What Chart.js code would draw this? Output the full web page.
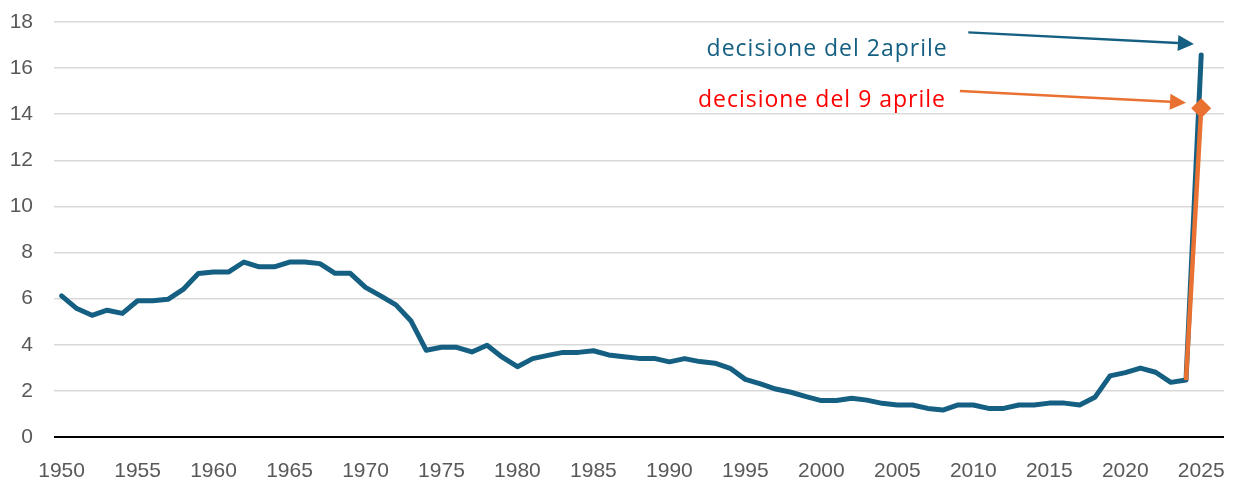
<!DOCTYPE html>
<html>
<head>
<meta charset="utf-8">
<script src="https://cdn.jsdelivr.net/npm/chart.js@4.4.1/dist/chart.umd.min.js"></script>
<style>
  html, body { margin: 0; padding: 0; background: #fff; }
  canvas { display: block; }
</style>
</head>
<body>
<canvas id="grafico" width="1235" height="479"></canvas>
<script>
// ── Dati ───────────────────────────────────────────────────────────
const ANNI = [
  1950, 1951, 1952, 1953, 1954, 1955, 1956, 1957, 1958, 1959,
  1960, 1961, 1962, 1963, 1964, 1965, 1966, 1967, 1968, 1969,
  1970, 1971, 1972, 1973, 1974, 1975, 1976, 1977, 1978, 1979,
  1980, 1981, 1982, 1983, 1984, 1985, 1986, 1987, 1988, 1989,
  1990, 1991, 1992, 1993, 1994, 1995, 1996, 1997, 1998, 1999,
  2000, 2001, 2002, 2003, 2004, 2005, 2006, 2007, 2008, 2009,
  2010, 2011, 2012, 2013, 2014, 2015, 2016, 2017, 2018, 2019,
  2020, 2021, 2022, 2023, 2024, 2025
];
const DAZI = [
  6.12, 5.57, 5.28, 5.50, 5.36, 5.91, 5.91, 5.97, 6.40, 7.09,
  7.16, 7.16, 7.59, 7.38, 7.38, 7.59, 7.59, 7.52, 7.10, 7.10,
  6.49, 6.12, 5.73, 5.03, 3.76, 3.89, 3.89, 3.69, 3.98, 3.46,
  3.05, 3.40, 3.54, 3.67, 3.67, 3.74, 3.56, 3.48, 3.41, 3.41,
  3.26, 3.40, 3.27, 3.20, 2.98, 2.50, 2.30, 2.08, 1.94, 1.75,
  1.58, 1.58, 1.68, 1.60, 1.46, 1.39, 1.39, 1.24, 1.17, 1.39,
  1.39, 1.24, 1.24, 1.39, 1.39, 1.47, 1.47, 1.39, 1.72, 2.65,
  2.79, 2.99, 2.81, 2.37, 2.47, 16.57
];
const ANNI_9APR = [2024, 2025];
const DAZI_9APR = [2.47, 14.26];

const X_TICKS = [1950, 1955, 1960, 1965, 1970, 1975, 1980, 1985, 1990, 1995,
                 2000, 2005, 2010, 2015, 2020, 2025];
const Y_TICKS = [0, 2, 4, 6, 8, 10, 12, 14, 16, 18];

const BLU = '#156082';
const ARANCIO = '#E97132';

// annotazioni (in coordinate dei dati)
const NOTE = [
  { text: 'decisione del 2aprile',  x: 1992.45, y: 16.54, color: BLU },
  { text: 'decisione del 9 aprile', x: 1991.88, y: 14.33, color: '#FF0000' }
];
const FRECCE = [
  { from: [2009.67, 17.55], to: [2024.52, 17.05], color: BLU },
  { from: [2009.12, 15.01], to: [2024.00, 14.50], color: ARANCIO }
];

// ── Plugin annotazioni ─────────────────────────────────────────────
function drawArrow(ctx, x1, y1, x2, y2, color) {
  const ang = Math.atan2(y2 - y1, x2 - x1);
  const len = 16, half = 8;
  const bx = x2 - Math.cos(ang) * len, by = y2 - Math.sin(ang) * len;
  ctx.strokeStyle = color;
  ctx.fillStyle = color;
  ctx.lineWidth = 2.5;
  ctx.beginPath();
  ctx.moveTo(x1, y1);
  ctx.lineTo(bx, by);
  ctx.stroke();
  ctx.beginPath();
  ctx.moveTo(x2, y2);
  ctx.lineTo(bx + Math.sin(ang) * half, by - Math.cos(ang) * half);
  ctx.lineTo(bx - Math.sin(ang) * half, by + Math.cos(ang) * half);
  ctx.closePath();
  ctx.fill();
}

const annotazioni = {
  id: 'annotazioni',
  afterDraw(chart) {
    const { ctx, scales: { x, y } } = chart;
    ctx.save();
    ctx.font = "23px 'Open Sans', sans-serif";
    ctx.textBaseline = 'alphabetic';
    ctx.textAlign = 'left';
    ctx.letterSpacing = '1px';
    NOTE.forEach(n => {
      ctx.fillStyle = n.color;
      ctx.fillText(n.text, x.getPixelForValue(n.x), y.getPixelForValue(n.y));
    });
    ctx.letterSpacing = '0px';
    FRECCE.forEach(a => {
      drawArrow(ctx,
        x.getPixelForValue(a.from[0]), y.getPixelForValue(a.from[1]),
        x.getPixelForValue(a.to[0]),   y.getPixelForValue(a.to[1]), a.color);
    });
    ctx.restore();
  }
};

// ── Grafico ────────────────────────────────────────────────────────
const TICK_FONT = { family: "'Liberation Sans', Arial, sans-serif", size: 21 };

new Chart(document.getElementById('grafico'), {
  type: 'line',
  data: {
    datasets: [
      {
        label: 'decisione del 9 aprile',
        data: ANNI_9APR.map((a, i) => ({ x: a, y: DAZI_9APR[i] })),
        borderColor: ARANCIO,
        backgroundColor: ARANCIO,
        borderWidth: 4.5,
        pointStyle: 'rectRot',
        pointRadius: [0, 10],
        pointBorderWidth: 0,
        order: 0
      },
      {
        label: 'dazi medi',
        data: ANNI.map((a, i) => ({ x: a, y: DAZI[i] })),
        borderColor: BLU,
        borderWidth: 5,
        borderJoinStyle: 'round',
        borderCapStyle: 'round',
        pointRadius: 0,
        order: 1
      }
    ]
  },
  options: {
    responsive: false,
    animation: false,
    layout: { padding: { top: 22, right: 11, bottom: 0, left: 0 } },
    plugins: { legend: { display: false }, tooltip: { enabled: false } },
    scales: {
      x: {
        type: 'linear',
        min: 1949.5,
        max: 2026.5,
        afterBuildTicks: s => { s.ticks = X_TICKS.map(v => ({ value: v })); },
        afterFit: s => { s.height = 42; s.paddingLeft = 0; s.paddingRight = 0; },
        grid: { display: false, drawTicks: false },
        border: { display: false },
        ticks: { color: '#595959', font: TICK_FONT, padding: 22, maxRotation: 0,
                 autoSkip: false, callback: v => String(v) }
      },
      y: {
        min: 0,
        max: 18,
        afterBuildTicks: s => { s.ticks = Y_TICKS.map(v => ({ value: v })); },
        afterFit: s => { s.width = 54; s.paddingTop = 0; s.paddingBottom = 0; },
        grid: {
          drawTicks: false,
          color: c => c.tick && c.tick.value === 0 ? '#000000' : '#D9D9D9',
          lineWidth: c => c.tick && c.tick.value === 0 ? 2 : 1.5
        },
        border: { display: false },
        ticks: { color: '#595959', font: TICK_FONT, padding: 21 }
      }
    }
  },
  plugins: [annotazioni]
});
</script>
</body>
</html>
